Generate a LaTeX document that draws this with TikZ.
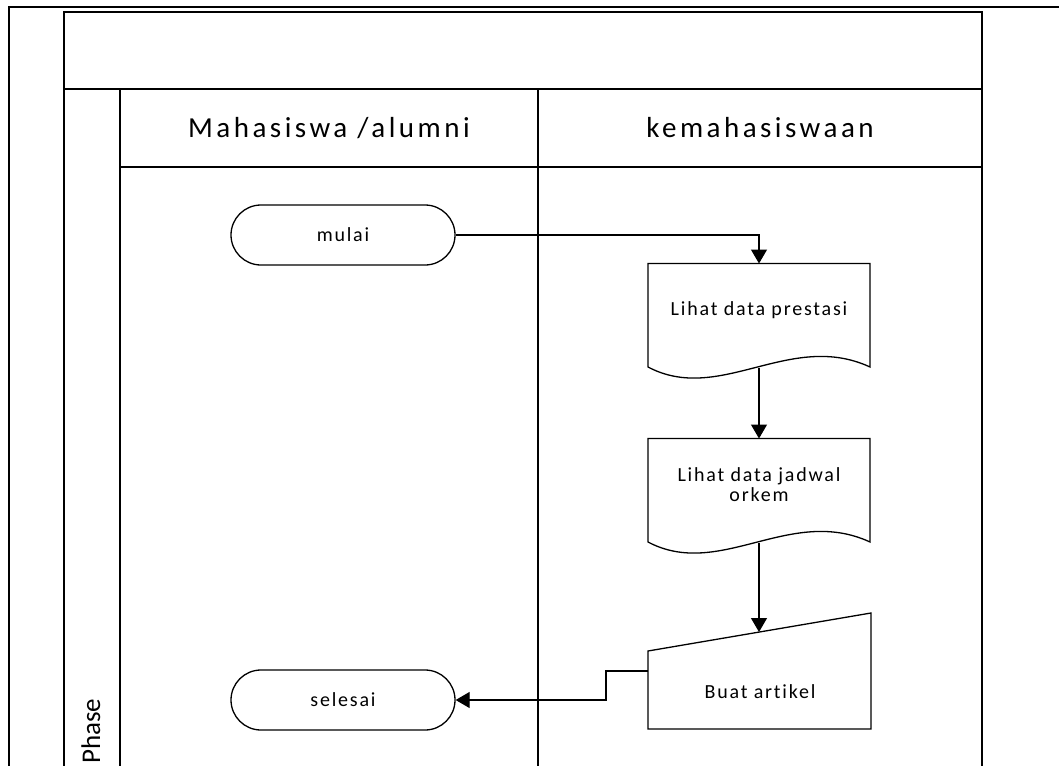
\documentclass[tikz,border=0pt]{standalone}
\usepackage{fontspec}
\setmainfont{Carlito}
\newfontfamily\smallfont[LetterSpace=9,Ligatures=NoCommon]{Carlito}
\newfontfamily\headfont[LetterSpace=12,Ligatures=NoCommon]{Carlito}
\usetikzlibrary{arrows.meta,calc}
\tikzset{
  frameline/.style={line width=2pt},
  poolline/.style={line width=1.5pt},
  shapeline/.style={line width=1.3pt},
  conn/.style={line width=1.3pt,-{Triangle[length=14pt,width=16pt]}},
  headtext/.style={font=\headfont\fontsize{29}{34}\selectfont, anchor=base, inner sep=0pt},
  smalltext/.style={font=\smallfont\fontsize{20}{20}\selectfont, align=center, inner sep=0pt},
  terminal/.style={draw, shapeline, rectangle, rounded corners=30pt, minimum width=224pt, minimum height=60pt, font=\smallfont\fontsize{20}{20}\selectfont},
}
\begin{document}
\begin{tikzpicture}[x=1pt,y=-1pt]
\useasboundingbox (0,0) rectangle (1059,765);
\clip (0,0) rectangle (1059,765);
\fill[white] (0,0) rectangle (1059,765);
% outer frame
\draw[frameline] (9,780) -- (9,7) -- (1070,7);
% pool
\draw[poolline] (64,780) -- (64,12) -- (982,12) -- (982,780);
\draw[poolline] (64,89) -- (982,89);
\draw[poolline] (120,89) -- (120,780);
\draw[poolline] (120,167) -- (982,167);
\draw[poolline] (538,89) -- (538,780);
% headers
\node[headtext] (lane1) at (329,137) {Mahasiswa /alumni};
\node[headtext] (lane2) at (760,137) {kemahasiswaan};
\node[rotate=90, anchor=base west, inner sep=0pt, font=\fontsize{27}{32}\selectfont] (phase) at (100,764) {Phase};
% terminals
\node[terminal] (mulai) at (343,235) {mulai};
\node[terminal] (selesai) at (343,700) {selesai};
% documents
\node[smalltext] (d1) at (759,310) {Lihat data prestasi};
\node[smalltext] (d2) at (759,485) {Lihat data jadwal\\orkem};
\foreach \d in {d1,d2}{
  \draw[shapeline,fill=white] ($(\d)+(-111,-46.5)$) -- ($(\d)+(111,-46.5)$) -- ($(\d)+(111,57)$)
    .. controls ($(\d)+(31,20)$) and ($(\d)+(-39,95)$) .. ($(\d)+(-111,57)$) -- cycle;
}
\node[smalltext] at (d1) {Lihat data prestasi};
\node[smalltext] at (d2) {Lihat data jadwal\\orkem};
\coordinate (d1top) at ($(d1)+(0,-46.5)$);
\coordinate (d1bot) at ($(d1)+(0,57.5)$);
\coordinate (d2top) at ($(d2)+(0,-46.5)$);
\coordinate (d2bot) at ($(d2)+(0,57.5)$);
% manual input
\node[smalltext] (m1) at (760,692) {Buat artikel};
\draw[shapeline] ($(m1)+(-112,-41)$) -- ($(m1)+(111,-79)$) -- ($(m1)+(111,37)$) -- ($(m1)+(-112,37)$) -- cycle;
\coordinate (m1top) at (759,632);
\coordinate (m1left) at ($(m1)+(-112,-21)$);
% connectors
\draw[conn] (mulai.east) -| (d1top);
\draw[conn] (d1bot) -- (d2top);
\draw[conn] (d2bot) -- (m1top);
\draw[conn] (m1left) -- ++(-42,0) |- (selesai.east);
\end{tikzpicture}
\end{document}
